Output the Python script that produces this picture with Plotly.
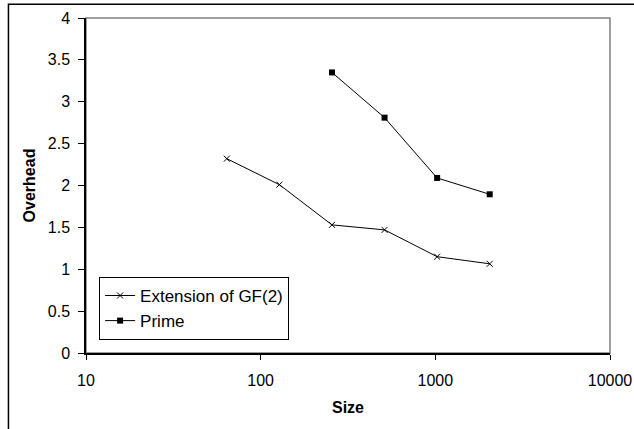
import plotly.graph_objects as go

sizes_gf = [64, 128, 256, 512, 1024, 2048]
overhead_gf = [2.32, 2.01, 1.53, 1.47, 1.15, 1.065]
sizes_prime = [256, 512, 1024, 2048]
overhead_prime = [3.35, 2.81, 2.09, 1.895]
x_ticks = [10, 100, 1000, 10000]
x_tick_labels = ["10", "100", "1000", "10000"]
y_ticks = [0, 0.5, 1, 1.5, 2, 2.5, 3, 3.5, 4]
y_tick_labels = ["0", "0.5", "1", "1.5", "2", "2.5", "3", "3.5", "4"]

FONT = "Liberation Sans, Arial, Helvetica, sans-serif"

fig = go.Figure()
fig.add_trace(go.Scatter(
    x=sizes_gf, y=overhead_gf, name="Extension of GF(2)",
    mode="lines+markers",
    line=dict(color="black", width=1),
    marker=dict(symbol="x-thin-open", size=6, color="black", line=dict(color="black", width=1)),
))
fig.add_trace(go.Scatter(
    x=sizes_prime, y=overhead_prime, name="Prime",
    mode="lines+markers",
    line=dict(color="black", width=1),
    marker=dict(symbol="square", size=6, color="black"),
))

# gray frame top/right of plot area
fig.add_shape(type="rect", xref="paper", yref="paper", x0=0, x1=1, y0=0, y1=1,
              line=dict(color="#808080", width=1.5), layer="below")
# outer chart border (partly cropped)
fig.add_shape(type="rect", xref="paper", yref="paper", x0=-0.148, x1=1.3, y0=-0.6, y1=1.041,
              line=dict(color="black", width=1.5), layer="below")

fig.update_layout(
    template="none",
    width=634, height=429,
    margin=dict(l=86, r=24, t=18, b=76, autoexpand=False),
    paper_bgcolor="white", plot_bgcolor="white",
    font=dict(family=FONT, size=16, color="black"),
    showlegend=True,
    hovermode=False,
    legend=dict(x=0.025, y=0.227, xanchor="left", yanchor="top",
                bgcolor="white", bordercolor="black", borderwidth=1,
                font=dict(size=17), tracegroupgap=0, itemwidth=30),
    xaxis=dict(type="log", range=[1, 4], tickvals=x_ticks, ticktext=x_tick_labels,
               automargin=False,
               showgrid=False, zeroline=False, showline=True, linecolor="black", linewidth=1.5,
               ticks="outside", ticklen=5, tickcolor="black", ticklabelstandoff=7,
               title=dict(text="<b>Size</b>", font=dict(size=16), standoff=14)),
    yaxis=dict(range=[0, 4], tickvals=y_ticks, ticktext=y_tick_labels,
               automargin=False,
               showgrid=False, zeroline=False, showline=True, linecolor="black", linewidth=1.5,
               ticks="outside", ticklen=6, tickcolor="black", ticklabelstandoff=5,
               title=dict(text="<b>Overhead</b>", font=dict(size=16), standoff=8)),
)

fig.write_html("out.html",
               config={"displayModeBar": False},
               post_script="document.body.style.margin='0';document.body.style.overflow='hidden';")
